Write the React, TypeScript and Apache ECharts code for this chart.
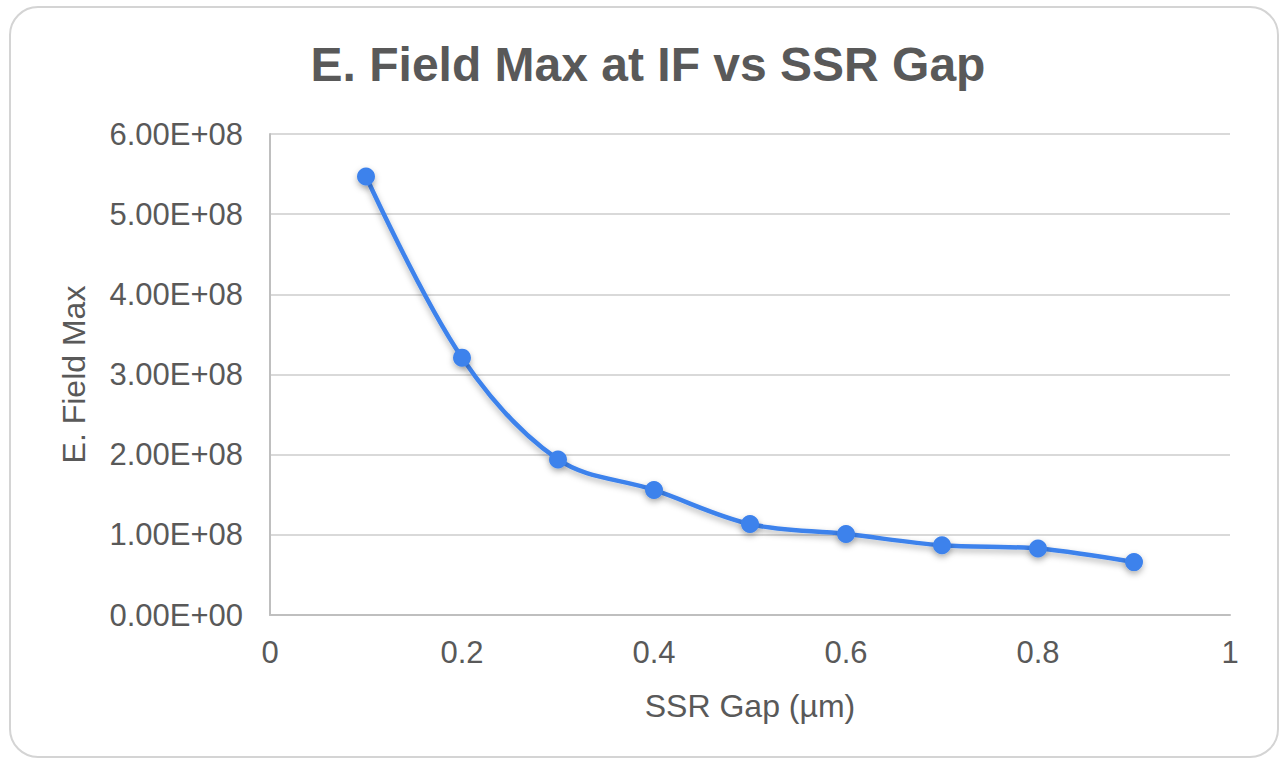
import React, { useEffect, useRef } from "react";
import * as echarts from "echarts";

// SSR gap (µm) and the corresponding maximum electric field at the interface
const gaps = [0.1, 0.2, 0.3, 0.4, 0.5, 0.6, 0.7, 0.8, 0.9];
const fieldMax = [5.47e8, 3.21e8, 1.94e8, 1.56e8, 1.135e8, 1.01e8, 0.87e8, 0.83e8, 0.66e8];

const titleText = "E. Field Max at IF vs SSR Gap";
const xName = "SSR Gap (µm)";
const yName = "E. Field Max";

const textColor = "#595959";
const lineColor = "#3d82ec";
const fontFamily = "'Liberation Sans', Arial, sans-serif";

function sci(v: number): string {
  if (v === 0) return "0.00E+00";
  const exp = Math.floor(Math.log10(Math.abs(v)));
  const mant = v / Math.pow(10, exp);
  const e = (exp < 0 ? "-" : "+") + String(Math.abs(exp)).padStart(2, "0");
  return mant.toFixed(2) + "E" + e;
}

export default function App() {
  const ref = useRef<HTMLDivElement>(null);

  useEffect(() => {
    if (!ref.current) return;
    const chart = echarts.init(ref.current, undefined, { renderer: "svg" });
    chart.setOption({
      animation: false,
      backgroundColor: "#ffffff",
      graphic: [
        {
          type: "rect",
          shape: { x: 10, y: 7, width: 1268, height: 750, r: 28 },
          style: { fill: "#ffffff", stroke: "#d4d4d4", lineWidth: 2 },
          z: -10,
        },
        {
          type: "text",
          x: 648,
          y: 64,
          style: {
            text: titleText,
            fill: textColor,
            font: `bold 48px ${fontFamily}`,
            align: "center",
            verticalAlign: "middle",
          },
        },
      ],
      grid: { left: 270, right: 51, top: 134, bottom: 145 },
      xAxis: {
        type: "value",
        min: 0,
        max: 1,
        interval: 0.2,
        name: xName,
        nameLocation: "middle",
        nameGap: 75,
        nameTextStyle: { color: textColor, fontSize: 32, fontFamily },
        axisLine: { show: true, lineStyle: { color: "#bfbfbf", width: 2 } },
        axisTick: { show: false },
        splitLine: { show: false },
        axisLabel: {
          color: textColor,
          fontSize: 31,
          fontFamily,
          margin: 22,
          formatter: (v: number) => String(Math.round(v * 10) / 10),
        },
      },
      yAxis: {
        type: "value",
        min: 0,
        max: 6e8,
        interval: 1e8,
        name: yName,
        nameLocation: "middle",
        nameGap: 180,
        nameTextStyle: { color: textColor, fontSize: 32, fontFamily },
        axisLine: { show: true, lineStyle: { color: "#bfbfbf", width: 2 } },
        axisTick: { show: false },
        splitLine: { show: true, lineStyle: { color: "#d9d9d9", width: 2 } },
        axisLabel: {
          color: textColor,
          fontSize: 31,
          fontFamily,
          margin: 27,
          formatter: (v: number) => sci(v),
        },
      },
      series: [
        {
          type: "line",
          data: gaps.map((g, i) => [g, fieldMax[i]]),
          smooth: 0.35,
          symbol: "circle",
          symbolSize: 18,
          lineStyle: {
            color: lineColor,
            width: 4.5,
            shadowColor: "rgba(0,0,0,0.3)",
            shadowBlur: 6,
            shadowOffsetY: 3,
          },
          itemStyle: {
            color: lineColor,
            shadowColor: "rgba(0,0,0,0.3)",
            shadowBlur: 6,
            shadowOffsetY: 3,
          },
        },
      ],
    });
    return () => chart.dispose();
  }, []);

  return (
    <div
      ref={ref}
      style={{ position: "fixed", left: 0, top: 0, width: 1281, height: 760 }}
    />
  );
}
